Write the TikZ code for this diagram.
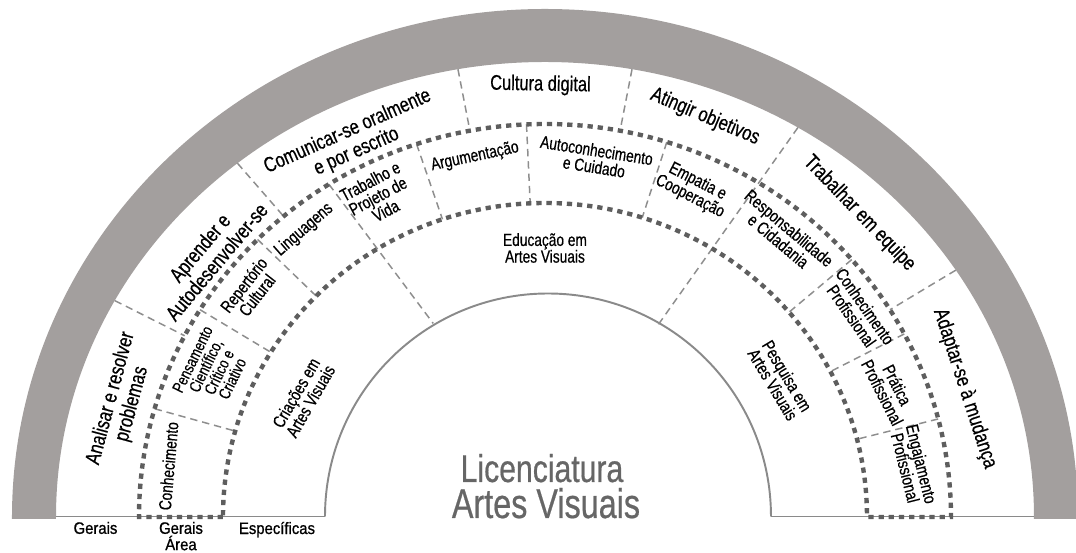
\documentclass[tikz,border=0pt]{standalone}
\usepackage{fontspec}
\setmainfont[FakeStretch=0.78,FakeBold=0.5]{Liberation Sans}
\newfontfamily\botfont[FakeStretch=0.9,FakeBold=0.9]{Liberation Sans}
\definecolor{bandgray}{HTML}{A39F9E}
\definecolor{dkgray}{HTML}{5E5E5E}
\definecolor{ltgray}{HTML}{8E8E8E}
\definecolor{rimgray}{HTML}{8A8A8A}
\definecolor{titlegray}{HTML}{666666}
\newcommand\ecoord[4]{%
  \pgfmathsetmacro\tmpr{(#3)*(#4)/sqrt(((#4)*cos(#2))^2+((#3)*sin(#2))^2)}%
  \coordinate (#1) at (#2:\tmpr);}
\begin{document}
\begin{tikzpicture}[x=2cm,y=2cm,
  thickdash/.style={draw=dkgray, line width=2.5pt, dash pattern=on 3pt off 2.8pt},
  thindash/.style={draw=ltgray, line width=0.85pt, dash pattern=on 4.2pt off 2.8pt},
  rim/.style={draw=rimgray, line width=1.1pt},
  outerlab/.style={font=\fontsize{12}{12.5}\selectfont, align=center, inner sep=0pt},
  midlab/.style={font=\fontsize{10}{9.5}\selectfont, align=center, inner sep=0pt},
  botlab/.style={font=\botfont\fontsize{9.4}{9.3}\selectfont, align=center, inner sep=0pt, anchor=north},
  titlelab/.style={text=titlegray, inner sep=0pt, anchor=base}]
\useasboundingbox (-5.45,-0.36) rectangle (5.31,5.17);
% ellipse radii
\def\ga{4.89}\def\gb{4.55}
\def\oa{4.06}\def\ob{3.93}
\def\ia{3.22}\def\ib{3.14}
\def\ca{2.235}\def\cb{2.235}
% gray band
\fill[bandgray] (-5.33,-0.02) -- (-5.33,0) arc[start angle=180,end angle=0,x radius=5.33,y radius=5.08]
  -- (5.33,-0.02) -- (4.89,-0.02) -- (4.89,0) arc[start angle=0,end angle=180,x radius=\ga,y radius=\gb]
  -- (-4.89,-0.02) -- cycle;
% baseline and inner circle
\draw[rimgray, line width=0.9pt] (-4.89,0.005) -- (-2.20,0.005);
\draw[rimgray, line width=0.9pt] (2.26,0.005) -- (4.89,0.005);
\draw[rim] (-2.20,0.005) arc[start angle=180,end angle=0,radius=2.23];
% divider coordinates
\foreach \nm/\ang in {o1/153.3,o2/131,o3/101,o4/79,o5/57,o6/31}{
  \ecoord{g-\nm}{\ang}{\ga}{\gb}
  \ecoord{d-\nm}{\ang}{\oa}{\ob}
}
\foreach \nm/\ang in {m1/164.5,m2/149,m3/136,m5/109,m6/92.7,m7/72,m8/40,m9/27,m10/14}{
  \ecoord{d-\nm}{\ang}{\oa}{\ob}
  \ecoord{i-\nm}{\ang}{\ia}{\ib}
}
\ecoord{d-m4}{123}{\oa}{\ob}
\ecoord{c-m4}{120}{\ca}{\cb}
\ecoord{c-o5}{59.5}{\ca}{\cb}
% thin dividers
\foreach \nm in {o1,o2,o3,o4,o6}{\draw[thindash] (g-\nm) -- (d-\nm);}
\draw[thindash] (g-o5) -- (c-o5);
\draw[thindash] (d-m4) -- (c-m4);
\foreach \nm in {m1,m2,m3,m5,m6,m7,m8,m9,m10}{\draw[thindash] (d-\nm) -- (i-\nm);}
% thick dashed ring
\draw[thickdash] (-\ia,0) -- (-\oa,0) arc[start angle=180,end angle=0,x radius=\oa,y radius=\ob]
  -- (\ia,0) arc[start angle=0,end angle=180,x radius=\ia,y radius=\ib] -- cycle;
% outer labels
\node[outerlab, rotate=75] (analisar) at (164.7:4.39) {Analisar e resolver\\problemas};
\node[outerlab, rotate=50] (aprender) at (142.1:4.27) {Aprender e\\Autodesenvolver-se};
\node[outerlab, rotate=24] (comunicar) at (117.2:4.22) {Comunicar-se oralmente\\e por escrito};
\node[outerlab, rotate=-1] (cultura) at (90.6:4.32) {Cultura digital};
\node[outerlab, rotate=-23] (atingir) at (68.2:4.31) {Atingir objetivos};
\node[outerlab, rotate=-46] (trabalhar) at (44:4.37) {Trabalhar em equipe};
\node[outerlab, rotate=-72] (adaptar) at (17:4.39) {Adaptar-se à mudança};
% middle labels
\node[midlab, rotate=85] (conhec) at (172.3:3.80) {Conhecimento};
\node[midlab, rotate=64, font=\fontsize{9.3}{8.4}\selectfont] (pensamento) at (156:3.64) {Pensamento\\Científico,\\Crítico e\\Criativo};
\node[midlab, rotate=52] (repertorio) at (142.4:3.72) {Repertório\\Cultural};
\node[midlab, rotate=41] (linguagens) at (130:3.75) {Linguagens};
\node[midlab, rotate=28] (trabproj) at (117.5:3.62) {Trabalho e\\Projeto de\\Vida};
\node[midlab, rotate=12] (argument) at (101:3.67) {Argumentação};
\node[midlab, rotate=-9] (autocon) at (82:3.62) {Autoconhecimento\\e Cuidado};
\node[midlab, rotate=-27] (empatia) at (65.6:3.60) {Empatia e\\Cooperação};
\node[midlab, rotate=-40] (respons) at (49.8:3.70) {Responsabilidade\\e Cidadania};
\node[midlab, rotate=-55] (conhprof) at (33.3:3.75) {Conhecimento\\Profissional};
\node[midlab, rotate=-63] (pratica) at (20.4:3.68) {Prática\\Profissional};
\node[midlab, rotate=-76] (engaj) at (7.9:3.72) {Engajamento\\Profissional};
% specific labels
\node[midlab, rotate=60] (criacoes) at (153.6:2.70) {Criações em\\Artes Visuais};
\node[midlab] (educacao) at (90:2.69) {Educação em\\Artes Visuais};
\node[midlab, rotate=-59] (pesquisa) at (30.2:2.72) {Pesquisa em\\Artes Visuais};
% title
\node[titlelab, font=\fontsize{22}{22}\selectfont] (licenc) at (-0.03,0.35) {Licenciatura};
\node[titlelab, font=\fontsize{23.6}{24}\selectfont] (artes) at (0.01,-0.01) {Artes Visuais};
% bottom labels
\node[botlab] (gerais) at (-4.495,-0.045) {Gerais};
\node[botlab] (geraisarea) at (-3.64,-0.045) {Gerais\\Área};
\node[botlab] (especificas) at (-2.68,-0.045) {Específicas};
\end{tikzpicture}
\end{document}
